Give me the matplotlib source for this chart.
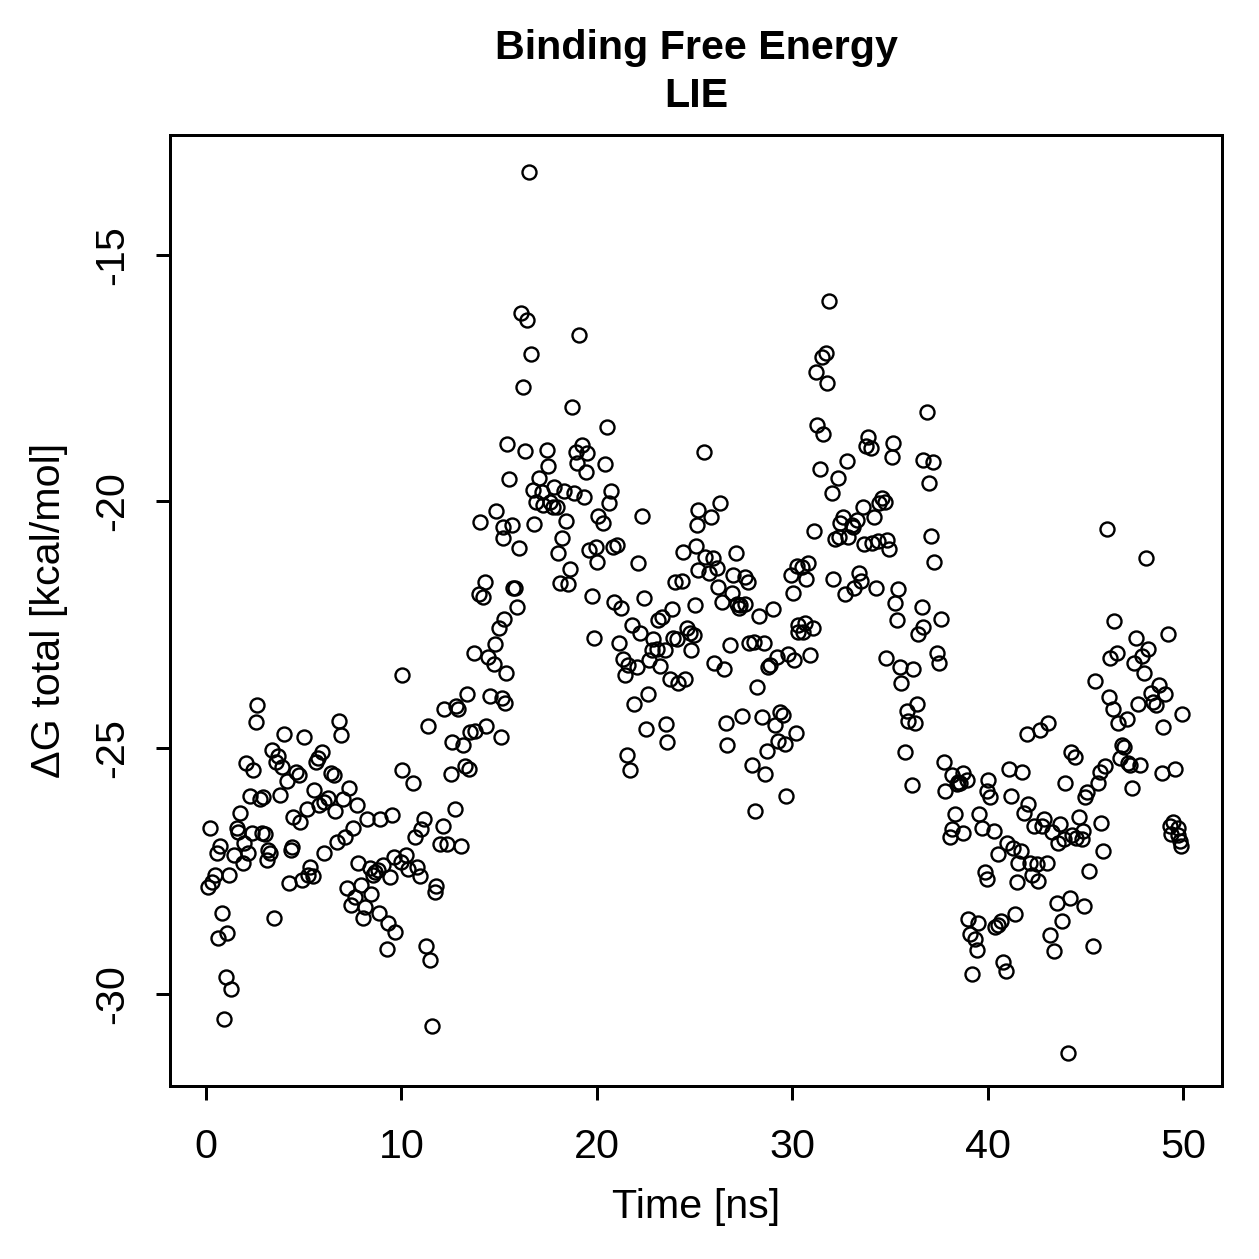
import matplotlib
matplotlib.use("Agg")
import numpy as np
import matplotlib.pyplot as plt

plt.rcParams['font.family'] = ['Liberation Sans', 'DejaVu Sans']
plt.rcParams['axes.unicode_minus'] = False

# Datos, por tramos de tiempo (ns) y dG total (kcal/mol)
t_00_05 = [0.1, 0.2, 0.3, 0.45, 0.55, 0.6, 0.7, 0.8, 0.9, 1.05, 1.1, 1.2, 1.3, 1.45, 1.6,
           1.65, 1.75, 1.9, 1.95, 2.05, 2.15, 2.25, 2.35, 2.4, 2.55, 2.6, 2.75, 2.85, 2.9, 3.0,
           3.1, 3.2, 3.3, 3.4, 3.5, 3.6, 3.7, 3.8, 3.9, 4.0, 4.15, 4.25, 4.35, 4.4, 4.45, 4.6]
dg_00_05 = [-27.82, -26.62, -27.72, -27.58, -27.13, -28.86, -26.99, -28.35, -30.5, -29.65,
            -28.75, -27.58, -29.9, -27.17, -26.62, -26.7, -26.32, -27.33, -26.93, -25.3,
            -27.13, -25.97, -26.72, -25.45, -24.47, -24.13, -26.03, -26.72, -25.99, -26.74,
            -27.27, -27.07, -27.13, -25.04, -28.45, -25.28, -25.16, -25.95, -25.38, -24.72,
            -25.67, -27.74, -27.07, -27.01, -26.4, -25.49]

t_05_10 = [4.76, 4.81, 4.91, 5.02, 5.17, 5.22, 5.32, 5.48, 5.53, 5.63, 5.73, 5.78, 5.94, 6.04,
           6.05, 6.24, 6.4, 6.55, 6.6, 6.7, 6.81, 6.91, 7.01, 7.11, 7.22, 7.32, 7.42, 7.52, 7.63,
           7.73, 7.78, 7.93, 8.03, 8.14, 8.24, 8.39, 8.44, 8.55, 8.65, 8.8, 8.85, 8.9, 9.06, 9.26,
           9.31, 9.42, 9.52, 9.62, 9.67]
dg_05_10 = [-25.55, -26.5, -27.68, -24.78, -26.24, -27.58, -27.41, -27.6, -25.85, -25.28,
            -25.2, -26.16, -25.08, -26.1, -27.13, -26.02, -25.51, -25.55, -26.28, -26.91,
            -24.45, -24.74, -26.03, -26.8, -27.84, -25.81, -28.18, -26.62, -28.02, -26.16,
            -27.33, -27.78, -28.45, -28.22, -26.44, -27.43, -27.96, -27.58, -27.52, -27.47,
            -28.35, -26.44, -27.37, -29.08, -28.55, -27.62, -26.36, -27.21, -28.73]

t_10_15 = [9.98, 10.03, 10.03, 10.24, 10.34, 10.59, 10.7, 10.8, 10.95, 11.0, 11.16, 11.26,
           11.36, 11.46, 11.57, 11.72, 11.77, 11.98, 12.13, 12.18, 12.33, 12.54, 12.59, 12.74,
           12.79, 12.9, 13.05, 13.15, 13.25, 13.36, 13.46, 13.51, 13.72, 13.77, 13.97, 14.02,
           14.18, 14.28, 14.33, 14.43, 14.53, 14.74, 14.79, 14.84, 14.99, 15.1, 15.15, 15.25,
           15.3, 15.35]
dg_10_15 = [-27.31, -23.52, -25.45, -27.17, -27.45, -25.71, -26.81, -27.41, -27.6, -26.64,
            -26.44, -29.02, -24.55, -29.3, -30.64, -27.92, -27.8, -26.95, -26.58, -24.21,
            -26.95, -25.53, -24.88, -26.24, -24.15, -24.21, -26.99, -24.94, -25.37, -23.9,
            -25.43, -24.68, -23.07, -24.66, -21.88, -20.42, -21.94, -21.63, -24.55, -23.15,
            -23.95, -23.3, -22.89, -20.19, -22.57, -24.78, -23.99, -22.38, -24.09, -23.48]

t_15_20 = [15.2, 15.22, 15.4, 15.5, 15.66, 15.71, 15.81, 15.92, 16.02, 16.12, 16.22, 16.33,
           16.43, 16.53, 16.63, 16.73, 16.8, 16.89, 17.04, 17.2, 17.25, 17.45, 17.5, 17.6,
           17.76, 17.81, 17.96, 18.01, 18.12, 18.22, 18.32, 18.42, 18.53, 18.63, 18.73, 18.83,
           18.94, 18.99, 19.09, 19.24, 19.34, 19.45, 19.5, 19.6, 19.75, 19.96, 20.01, 20.06]
dg_15_20 = [-20.52, -20.74, -18.83, -19.54, -20.48, -21.75, -21.75, -22.14, -20.94, -16.18,
            -17.68, -18.98, -16.32, -13.32, -17.01, -19.77, -20.46, -20.01, -19.52, -19.81,
            -20.07, -18.96, -19.28, -20.01, -20.11, -19.71, -20.11, -21.04, -21.65, -20.74,
            -19.79, -20.4, -21.67, -21.37, -18.08, -19.83, -19.0, -19.22, -16.62, -18.85,
            -19.91, -19.4, -19.02, -20.98, -21.92, -20.92, -21.23, -20.29]

t_20_25 = [19.86, 20.32, 20.42, 20.52, 20.62, 20.73, 20.83, 20.88, 21.03, 21.14, 21.24, 21.34,
           21.44, 21.55, 21.6, 21.7, 21.8, 21.9, 22.06, 22.11, 22.21, 22.31, 22.42, 22.52,
           22.62, 22.67, 22.82, 22.88, 23.08, 23.13, 23.23, 23.34, 23.49, 23.54, 23.59, 23.75,
           23.85, 23.9, 24.0, 24.1, 24.16, 24.36, 24.41, 24.51, 24.62, 24.77, 24.82, 24.97,
           25.03, 25.08, 25.13, 25.18, 25.2, 25.48]
dg_20_25 = [-22.77, -20.44, -19.24, -18.49, -20.03, -19.79, -20.92, -22.04, -20.88, -22.87,
            -22.16, -23.19, -23.52, -25.14, -23.32, -25.45, -22.51, -24.11, -23.36, -21.25,
            -22.67, -20.29, -21.96, -24.61, -23.9, -23.22, -23.01, -22.79, -22.99, -22.4,
            -23.34, -22.34, -23.01, -24.51, -24.88, -23.6, -22.18, -22.77, -21.63, -22.79,
            -23.68, -21.61, -21.02, -23.6, -22.57, -22.67, -23.01, -22.71, -22.1, -20.9,
            -20.48, -20.17, -21.39, -19.0]

t_25_30 = [25.54, 25.74, 25.84, 25.95, 26.0, 26.15, 26.2, 26.3, 26.41, 26.51, 26.61, 26.66,
           26.82, 26.92, 26.97, 27.12, 27.17, 27.28, 27.33, 27.43, 27.58, 27.6, 27.74, 27.79,
           27.94, 28.04, 28.1, 28.2, 28.3, 28.45, 28.56, 28.61, 28.71, 28.76, 28.86, 29.02,
           29.12, 29.22, 29.27, 29.38, 29.53, 29.63, 29.68, 29.78, 29.94, 30.04, 30.09, 30.19,
           30.25, 30.3, 30.32]
dg_25_30 = [-21.13, -21.45, -20.31, -21.15, -23.28, -21.35, -21.73, -20.03, -22.04, -23.4,
            -24.49, -24.94, -22.91, -21.86, -21.49, -21.04, -22.08, -22.16, -22.1, -24.35,
            -21.53, -22.08, -21.63, -22.87, -25.34, -22.85, -26.28, -23.76, -22.32, -24.37,
            -22.87, -25.53, -25.06, -23.36, -23.32, -22.18, -24.53, -23.15, -24.86, -24.27,
            -24.33, -24.92, -25.97, -23.09, -21.49, -21.86, -23.22, -24.7, -21.31, -22.51,
            -22.65]

t_30_35 = [30.5, 30.55, 30.65, 30.71, 30.81, 30.91, 31.06, 31.11, 31.22, 31.27, 31.42, 31.53,
           31.58, 31.73, 31.78, 31.88, 32.04, 32.09, 32.19, 32.34, 32.39, 32.45, 32.6, 32.7,
           32.8, 32.86, 33.06, 33.11, 33.15, 33.32, 33.42, 33.52, 33.62, 33.67, 33.78, 33.88,
           34.03, 34.08, 34.19, 34.29, 34.39, 34.44, 34.6, 34.75, 34.8, 34.85, 34.95, 35.11,
           35.16, 35.26, 35.36, 35.41, 35.52, 35.55]
dg_30_35 = [-21.33, -22.65, -22.46, -21.57, -21.25, -23.11, -22.57, -20.6, -17.37, -18.45,
            -19.34, -17.07, -18.63, -16.99, -17.6, -15.93, -19.83, -21.57, -20.76, -19.52,
            -20.72, -20.44, -20.31, -21.88, -19.18, -20.72, -20.48, -20.52, -21.75, -20.38,
            -21.45, -21.61, -20.11, -20.86, -18.87, -18.69, -18.91, -20.84, -20.31, -21.75,
            -20.8, -20.03, -19.93, -20.01, -23.17, -20.78, -20.96, -19.1, -18.81, -22.06,
            -22.4, -21.77, -23.36, -23.68]

t_35_40 = [35.77, 35.87, 35.93, 36.13, 36.18, 36.28, 36.39, 36.44, 36.64, 36.69, 36.72, 36.9,
           37.0, 37.1, 37.21, 37.26, 37.41, 37.51, 37.61, 37.77, 37.8, 38.08, 38.18, 38.2,
           38.33, 38.43, 38.48, 38.59, 38.74, 38.76, 38.95, 39.0, 39.1, 39.2, 39.36, 39.46,
           39.51, 39.56, 39.71, 39.87, 39.97, 39.99, 40.02]
dg_35_40 = [-25.08, -24.25, -24.45, -25.75, -23.4, -24.49, -24.11, -22.69, -22.14, -19.16,
            -22.55, -18.18, -19.62, -20.7, -19.2, -21.23, -23.07, -23.28, -22.38, -25.28,
            -25.87, -26.81, -25.55, -26.64, -26.34, -25.73, -25.69, -25.71, -25.51, -26.72,
            -25.65, -28.47, -28.77, -29.58, -28.87, -29.1, -28.55, -26.34, -26.62, -27.51,
            -27.66, -25.87, -25.65]

t_40_45 = [40.12, 40.33, 40.38, 40.53, 40.55, 40.69, 40.79, 40.94, 40.99, 41.1, 41.2, 41.3,
           41.4, 41.5, 41.56, 41.71, 41.76, 41.86, 42.02, 42.07, 42.17, 42.27, 42.37, 42.53,
           42.58, 42.68, 42.78, 42.89, 43.04, 43.09, 43.19, 43.3, 43.4, 43.55, 43.6, 43.7,
           43.81, 43.91, 43.96, 44.11, 44.22, 44.27, 44.32, 44.47, 44.52, 44.68, 44.83, 44.88,
           44.93, 44.98, 45.09, 45.2, 45.4]
dg_40_45 = [-25.99, -26.68, -28.63, -27.15, -28.59, -28.51, -29.34, -29.52, -26.93, -25.43,
            -25.97, -27.03, -28.37, -27.72, -27.33, -27.09, -25.49, -26.32, -24.72, -26.14,
            -27.33, -27.58, -26.58, -27.35, -27.7, -24.63, -26.58, -26.44, -27.33, -24.49,
            -28.79, -26.7, -29.12, -28.14, -26.93, -26.54, -28.51, -26.85, -25.71, -31.19,
            -28.04, -25.08, -26.76, -25.18, -26.83, -26.4, -26.85, -26.68, -28.2, -25.99,
            -25.89, -27.49, -29.02]

t_45_50 = [45.5, 45.65, 45.75, 45.8, 45.91, 46.01, 46.11, 46.21, 46.26, 46.42, 46.47, 46.62,
           46.67, 46.78, 46.88, 46.98, 47.13, 47.18, 47.29, 47.39, 47.49, 47.59, 47.7, 47.8,
           47.9, 48.0, 48.11, 48.21, 48.36, 48.46, 48.62, 48.77, 48.92, 48.98, 49.08, 49.23,
           49.33, 49.39, 49.49, 49.59, 49.74, 49.76, 49.85, 49.9, 49.95]
dg_45_50 = [-23.64, -25.71, -25.49, -26.52, -27.09, -25.37, -20.56, -23.97, -23.17, -24.21,
            -22.42, -23.07, -24.49, -25.2, -24.94, -24.98, -24.41, -25.3, -25.34, -25.81,
            -23.28, -22.77, -24.11, -25.34, -23.13, -23.48, -21.15, -22.99, -23.88, -24.07,
            -24.13, -23.72, -25.51, -24.57, -23.9, -22.69, -26.58, -26.74, -26.5, -25.43,
            -26.62, -26.76, -26.89, -26.99, -24.31]

x_ticks = [0, 10, 20, 30, 40, 50]
y_ticks = [-30, -25, -20, -15]

time = np.concatenate([t_00_05, t_05_10, t_10_15, t_15_20, t_20_25,
                       t_25_30, t_30_35, t_35_40, t_40_45, t_45_50])
dg = np.concatenate([dg_00_05, dg_05_10, dg_10_15, dg_15_20, dg_20_25,
                     dg_25_30, dg_30_35, dg_35_40, dg_40_45, dg_45_50])

W = 1259
fs = 16.5
fig = plt.figure(figsize=(W / 180, W / 180), dpi=180)
ax = fig.add_axes([170 / W, 1 - 1086 / W, (1222 - 170) / W, (1086 - 135) / W])

ax.plot(time, dg, linestyle='none', marker='o', markersize=5.6,
        markerfacecolor='none', markeredgecolor='black', markeredgewidth=0.95)

ax.set_xlim(-1.84, 52.0)
ax.set_ylim(-31.86, -12.57)
ax.set_xticks(x_ticks)
ax.set_yticks(y_ticks)
ax.set_yticklabels([str(v) for v in y_ticks], rotation=90, va='center')
ax.tick_params(axis='both', direction='out', length=5.6, width=1.2,
               labelsize=fs, colors='black')
ax.tick_params(axis='x', pad=11)
ax.tick_params(axis='y', pad=10)
for s in ax.spines.values():
    s.set_linewidth(1.2)

ax.set_xlabel('Time [ns]', fontsize=fs, labelpad=9)
ax.set_ylabel('ΔG total [kcal/mol]', fontsize=fs, labelpad=10)

cx = (170 + 1222) / 2 / W
fig.text(cx, 1 - 59 / W, 'Binding Free Energy', ha='center', va='baseline',
         fontsize=fs, fontweight='bold')
fig.text(cx, 1 - 107 / W, 'LIE', ha='center', va='baseline',
         fontsize=fs, fontweight='bold')

fig.savefig('out.png', dpi=180)
